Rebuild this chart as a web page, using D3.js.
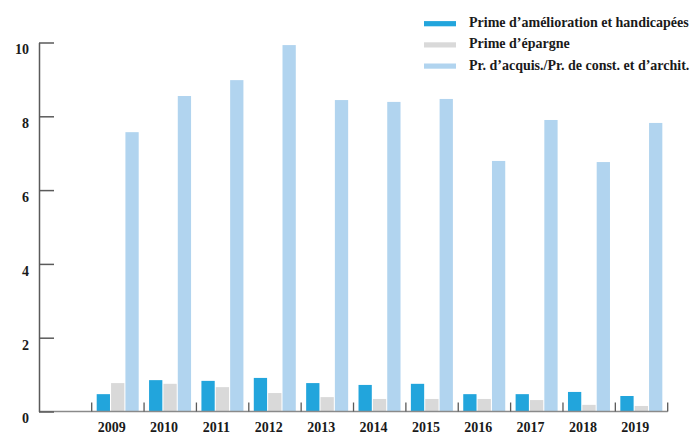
<!DOCTYPE html>
<html>
<head>
<meta charset="utf-8">
<script src="https://cdn.jsdelivr.net/npm/d3@7"></script>
<style>
  html, body { margin: 0; padding: 0; background: #fff; }
  svg { display: block; }
  text { font-family: "Liberation Serif", "Times New Roman", serif; font-weight: bold; fill: #1a1a1a; }
</style>
</head>
<body>
<svg id="chart" width="694" height="434"></svg>
<script>
// Years on the x axis
const years = ["2009", "2010", "2011", "2012", "2013", "2014", "2015", "2016", "2017", "2018", "2019"];

// Series names (legend order)
const seriesNames = [
  "Prime d’amélioration et handicapées",
  "Prime d’épargne",
  "Pr. d’acquis./Pr. de const. et d’archit."
];

// Values per series, one per year
const ameliorationValues = [0.47, 0.85, 0.83, 0.91, 0.77, 0.72, 0.75, 0.47, 0.47, 0.53, 0.42];
const epargneValues      = [0.77, 0.75, 0.66, 0.50, 0.39, 0.34, 0.34, 0.34, 0.31, 0.18, 0.15];
const acquisitionValues  = [7.57, 8.55, 8.98, 9.93, 8.44, 8.39, 8.47, 6.79, 7.90, 6.76, 7.82];

// Y tick labels
const yTicks = [0, 2, 4, 6, 8, 10];

const colors = ["#22a5dc", "#d9d9d9", "#b1d4ef"];
const seriesValues = [ameliorationValues, epargneValues, acquisitionValues];

const svg = d3.select("#chart");

const axisLeftX = 39;
const x = d3.scaleBand().domain(years).range([91.7, 667.7]).paddingInner(0).paddingOuter(0);
const xSub = d3.scaleBand().domain(seriesNames).range([5, 47]).paddingInner(0.075);
const y = d3.scaleLinear().domain([0, 10]).range([411.5, 42.5]);
const color = d3.scaleOrdinal().domain(seriesNames).range(colors);

// Bars
const rows = years.map((yr, i) => ({
  year: yr,
  values: seriesNames.map((s, k) => ({ series: s, value: seriesValues[k][i] }))
}));

const groups = svg.append("g").selectAll("g")
  .data(rows)
  .join("g")
  .attr("transform", d => `translate(${x(d.year)},0)`);

groups.selectAll("rect")
  .data(d => d.values)
  .join("rect")
  .attr("x", d => xSub(d.series))
  .attr("width", xSub.bandwidth())
  .attr("y", d => y(d.value))
  .attr("height", d => y(0) - y(d.value))
  .attr("fill", d => color(d.series));

// X baseline with upward ticks at the category boundaries
const axisColor = "#5a5a5a";
const xAxis = svg.append("g");
xAxis.append("line")
  .attr("x1", axisLeftX).attr("x2", x.range()[1])
  .attr("y1", y(0)).attr("y2", y(0))
  .attr("stroke", "#8a8a8a").attr("stroke-width", 1.5);

const boundaries = years.map(yr => x(yr)).concat([x.range()[1]]);
xAxis.selectAll("line.tick")
  .data(boundaries)
  .join("line")
  .attr("class", "tick")
  .attr("x1", d => d).attr("x2", d => d)
  .attr("y1", y(0)).attr("y2", y(0) - 9)
  .attr("stroke", axisColor).attr("stroke-width", 1.3);

xAxis.selectAll("text")
  .data(years)
  .join("text")
  .attr("x", d => x(d) + 20)
  .attr("y", 432)
  .attr("text-anchor", "middle")
  .attr("font-size", 14)
  .text(d => d);

// Y axis: ticks point into the plot, labels sit just below each tick
const yAxis = d3.axisLeft(y)
  .tickValues(yTicks)
  .tickFormat(d3.format("d"))
  .tickSizeInner(-15)
  .tickSizeOuter(0)
  .tickPadding(10);

const yG = svg.append("g")
  .attr("transform", `translate(${axisLeftX},0)`)
  .call(yAxis);
yG.select(".domain").attr("stroke", axisColor).attr("stroke-width", 1.5);
yG.selectAll(".tick line").attr("stroke", axisColor).attr("stroke-width", 1.5);
yG.selectAll(".tick text")
  .attr("dy", "0.82em")
  .attr("font-size", 14)
  .attr("font-family", "Liberation Serif, Times New Roman, serif")
  .attr("font-weight", "bold")
  .attr("fill", "#1a1a1a");

// Legend
const legend = svg.append("g").attr("transform", "translate(424,0)");
const legendRows = legend.selectAll("g")
  .data(seriesNames)
  .join("g")
  .attr("transform", (d, i) => `translate(0,${23.7 + i * 21.2})`);
legendRows.append("rect")
  .attr("x", 0).attr("y", -2.6)
  .attr("width", 32).attr("height", 5.2)
  .attr("fill", d => color(d));
legendRows.append("text")
  .attr("x", 45).attr("y", 3.4)
  .attr("font-size", 14)
  .text(d => d);
</script>
</body>
</html>
